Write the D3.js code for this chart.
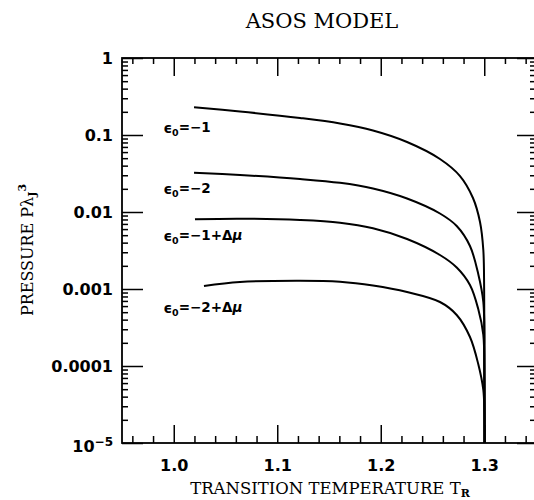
<!DOCTYPE html>
<html>
<head>
<meta charset="utf-8">
<script src="https://cdn.jsdelivr.net/npm/d3@7"></script>
<style>
  body { margin: 0; background: #fff; }
  #chart { width: 534px; height: 500px; }
</style>
</head>
<body>
<div id="chart"></div>
<script>
// Valores (T_R, P·λ_J^3)
const tempEps1 = [1.0196, 1.0640, 1.1220, 1.1606, 1.1925, 1.2254, 1.2572, 1.2766, 1.2891, 1.2959, 1.2991, 1.2999, 1.3002, 1.3003];
const presEps1 = [0.229, 0.2019, 0.1663, 0.141, 0.1144, 0.0811, 0.0488, 0.0293, 0.0152, 0.00742, 0.00321, 0.00097, 0.0001, 0.00001];

const tempEps2 = [1.0196, 1.0640, 1.1220, 1.1606, 1.1925, 1.2254, 1.2572, 1.2734, 1.2862, 1.2942, 1.2991, 1.3001, 1.3003];
const presEps2 = [0.03239, 0.03024, 0.02683, 0.02394, 0.02019, 0.01497, 0.00956, 0.00658, 0.00362, 0.001566, 0.000678, 0.0001, 0.00001];

const tempEps1Mu = [1.0205, 1.0640, 1.1220, 1.1606, 1.1925, 1.2254, 1.2572, 1.2734, 1.2862, 1.2942, 1.2991, 1.3001, 1.3003];
const presEps1Mu = [0.00804, 0.00818, 0.00787, 0.00726, 0.00614, 0.00446, 0.002764, 0.001902, 0.001127, 0.00055, 0.000253, 0.0000658, 0.00001];

const tempEps2Mu = [1.0292, 1.0640, 1.1220, 1.1606, 1.1925, 1.2254, 1.2572, 1.2734, 1.2862, 1.2942, 1.2991, 1.3001, 1.3003];
const presEps2Mu = [0.001094, 0.001233, 0.001282, 0.001244, 0.00111, 0.000914, 0.000678, 0.00046, 0.000238, 0.000106, 0.0000488, 0.0000253, 0.00001];

const curveLabels = ["−1", "−2", "−1+", "−2+"];
const labelHasMu = [false, false, true, true];
const labelT = [0.99, 0.99, 0.99, 0.99];
const labelP = [0.105, 0.0171, 0.0042, 0.00049];

const xMajorTicks = [1.0, 1.1, 1.2, 1.3];
const xTickLabels = ["1.0", "1.1", "1.2", "1.3"];
const yMajorTicks = [1, 0.1, 0.01, 0.001, 0.0001, 0.00001];
const yTickLabels = ["1", "0.1", "0.01", "0.001", "0.0001", "10"];

const width = 534, height = 500;
const margins = { top: 58, right: -2, bottom: 57, left: 122 };

const svg = d3.select("#chart").append("svg")
    .attr("width", width)
    .attr("height", height);

const x = d3.scaleLinear()
    .domain([0.95, 1.35])
    .range([margins.left, width - margins.right]);

const y = d3.scaleLog()
    .domain([1e-5, 1])
    .range([height - margins.bottom, margins.top]);

const x0 = x.range()[0], x1 = x.range()[1];
const y0 = y.range()[0], y1 = y.range()[1];

// ticks menores
const xMinor = d3.range(0.96, 1.35, 0.02).filter(v => Math.abs(v * 10 - Math.round(v * 10)) > 1e-6);
const yMinor = [];
for (let e = -5; e < 0; e++) for (let k = 2; k <= 9; k++) yMinor.push(k * Math.pow(10, e));

const tickFont = "'DejaVu Sans', sans-serif";

function styleAxis(g) {
    g.select(".domain").remove();
    g.selectAll("line").attr("stroke", "#000").attr("stroke-width", 1.5);
}

// eixo inferior
svg.append("g")
    .attr("transform", `translate(0,${y0})`)
    .call(d3.axisBottom(x).tickValues(xMajorTicks).tickSize(-18).tickPadding(17)
        .tickFormat((d, i) => xTickLabels[i]))
    .call(styleAxis)
    .call(g => g.selectAll("text")
        .attr("font-family", tickFont).attr("font-weight", "bold")
        .attr("font-size", "16px").attr("fill", "#000"));

svg.append("g")
    .attr("transform", `translate(0,${y0})`)
    .call(d3.axisBottom(x).tickValues(xMinor).tickSize(-7).tickFormat(""))
    .call(styleAxis);

// eixo superior
svg.append("g")
    .attr("transform", `translate(0,${y1})`)
    .call(d3.axisTop(x).tickValues(xMajorTicks).tickSize(-18).tickFormat(""))
    .call(styleAxis);

svg.append("g")
    .attr("transform", `translate(0,${y1})`)
    .call(d3.axisTop(x).tickValues(xMinor).tickSize(-6).tickFormat(""))
    .call(styleAxis);

// eixo esquerdo
const yAxisLeft = svg.append("g")
    .attr("transform", `translate(${x0},0)`)
    .call(d3.axisLeft(y).tickValues(yMajorTicks).tickSize(-21).tickPadding(9)
        .tickFormat((d, i) => yTickLabels[i]))
    .call(styleAxis);

yAxisLeft.selectAll("text")
    .attr("font-family", tickFont).attr("font-weight", "bold")
    .attr("font-size", "16px").attr("fill", "#000");

// 10^-5 com expoente
yAxisLeft.selectAll(".tick text")
    .filter(d => d === 0.00001)
    .text(null)
    .attr("dy", "0.55em")
    .call(t => {
        t.append("tspan").text("10");
        t.append("tspan").attr("dy", "-0.55em").attr("font-size", "12px").text("−5");
    });

svg.append("g")
    .attr("transform", `translate(${x0},0)`)
    .call(d3.axisLeft(y).tickValues(yMinor).tickSize(-6).tickFormat(""))
    .call(styleAxis);

// eixo direito
svg.append("g")
    .attr("transform", `translate(${x1},0)`)
    .call(d3.axisRight(y).tickValues(yMajorTicks).tickSize(-19).tickFormat(""))
    .call(styleAxis);

svg.append("g")
    .attr("transform", `translate(${x1},0)`)
    .call(d3.axisRight(y).tickValues(yMinor).tickSize(-6).tickFormat(""))
    .call(styleAxis);

// moldura
svg.append("rect")
    .attr("x", x0).attr("y", y1)
    .attr("width", x1 - x0).attr("height", y0 - y1)
    .attr("fill", "none").attr("stroke", "#000").attr("stroke-width", 1.8);

// curvas
const series = [
    [tempEps1, presEps1],
    [tempEps2, presEps2],
    [tempEps1Mu, presEps1Mu],
    [tempEps2Mu, presEps2Mu]
];

const line = d3.line()
    .x(d => x(d[0]))
    .y(d => y(d[1]))
    .curve(d3.curveCatmullRom.alpha(0.5));

svg.append("g").selectAll("path")
    .data(series.map(([t, p]) => t.map((v, i) => [v, p[i]])))
    .enter()
    .append("path")
    .attr("d", line)
    .attr("fill", "none")
    .attr("stroke", "#000")
    .attr("stroke-width", 2);

// rótulos das curvas
const labels = svg.append("g").selectAll("text")
    .data(curveLabels)
    .enter()
    .append("text")
    .attr("x", (d, i) => x(labelT[i]))
    .attr("y", (d, i) => y(labelP[i]))
    .attr("font-family", tickFont)
    .attr("font-weight", "bold")
    .attr("font-size", "13.5px")
    .attr("fill", "#000");

labels.each(function (d, i) {
    const t = d3.select(this);
    t.append("tspan").text("ϵ");
    t.append("tspan").attr("dy", "0.3em").attr("font-size", "9.5px").text("0");
    t.append("tspan").attr("dy", "-0.3em").text("=" + d);
    if (labelHasMu[i]) {
        t.append("tspan").text("Δ");
        t.append("tspan").attr("font-style", "italic").text("μ");
    }
});

// títulos
const serif = "'DejaVu Serif', serif";

svg.append("text")
    .attr("x", 322).attr("y", 28)
    .attr("text-anchor", "middle")
    .attr("font-family", serif).attr("font-size", "21px")
    .text("ASOS MODEL");

const xTitle = svg.append("text")
    .attr("x", 330).attr("y", 494)
    .attr("text-anchor", "middle")
    .attr("font-family", serif).attr("font-size", "16.5px");
xTitle.append("tspan").text("TRANSITION TEMPERATURE T");
xTitle.append("tspan").attr("dy", "0.3em").attr("font-size", "11px").attr("font-weight", "bold").text("R");

const yTitle = svg.append("text")
    .attr("transform", "translate(33,250) rotate(-90)")
    .attr("text-anchor", "middle")
    .attr("font-family", serif).attr("font-size", "16px");
yTitle.append("tspan").text("PRESSURE Pλ");
yTitle.append("tspan").attr("dy", "0.3em").attr("font-size", "11px").attr("font-weight", "bold").text("J");
yTitle.append("tspan").attr("dy", "-0.9em").attr("font-size", "11px").attr("font-weight", "bold").text("3");
</script>
</body>
</html>
